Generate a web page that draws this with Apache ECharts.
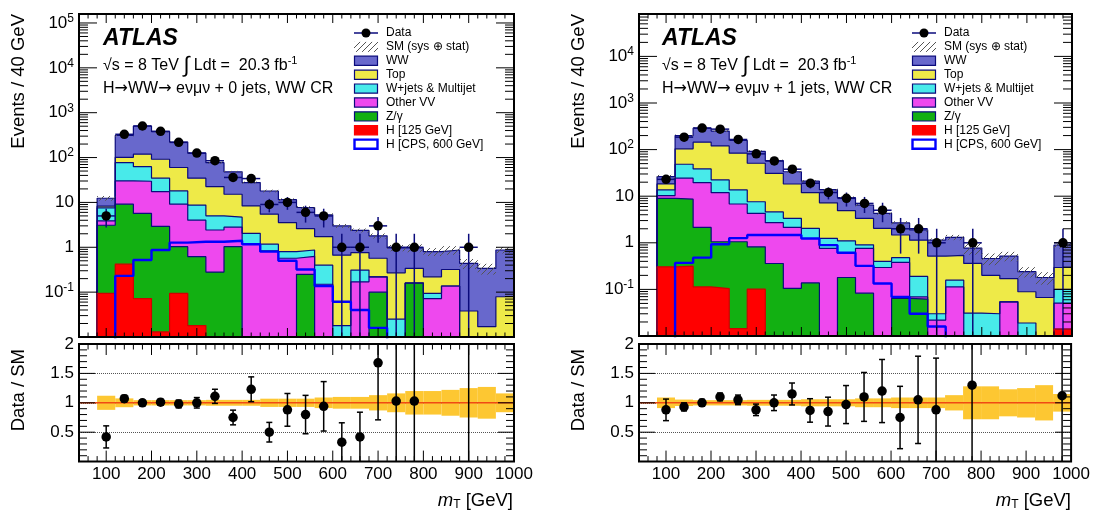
<!DOCTYPE html>
<html><head><meta charset="utf-8">
<script src="https://cdn.jsdelivr.net/npm/echarts@6/dist/echarts.min.js"></script>
<style>html,body{margin:0;padding:0;background:#fff}#c{width:1093px;height:511px}</style>
</head><body><div id="c"></div>
<script>
// ---------------- data ----------------
const binEdges = [80,120,160,200,240,280,320,360,400,440,480,520,560,600,640,680,720,760,800,840,880,920,960,1000];
const xTickLabels = [100,200,300,400,500,600,700,800,900,1000];
const ratioTickLabels = [0.5,1,1.5,2];
const legendNames = ['Data','SM (sys \u2295 stat)','WW','Top','W+jets & Multijet','Other VV','Z/\u03b3','H [125 GeV]','H [CPS, 600 GeV]'];

// 0-jet panel
const L_H125  = [0.094,0.42,0.072,0.013,0.094,0.018,0,0,0,0,0,0,0,0,0,0,0,0,0,0,0,0,0];
const L_Zgam  = [3.0,8.7,5.6,2.9,0.94,0.60,0.28,1.03,0,0,0,0.25,0,0,0,0.10,0,0.16,0,0,0,0,0];
const L_VV    = [0.8,21,24,14.5,8.1,3.4,2.15,1.77,1.2,0.83,0.57,0.38,0.15,0,0.17,0.12,0,0,0.072,0.137,0,0,0];
const L_Wjets = [3.7,47,33,17.3,8.9,4.7,2.6,1.9,0.85,0.34,0.23,0.24,0.25,0.018,0.14,0,0.025,0,0.022,0,0,0,0];
const L_Top   = [0.7,24,56,57,42,26,17.5,10.5,6.3,4.3,2.75,1.73,1.33,0.65,0.45,0.35,0.245,0.18,0.126,0.183,0.038,0.017,0.079];
const L_WW    = [4.1,209,386,285,162,91,54.5,32.8,19.3,12.5,7.95,5.1,3.57,2.33,1.62,1.23,0.70,0.63,0.58,0.55,0.40,0.32,0.79];
const L_CPS   = [0,0.23,0.52,0.87,1.27,1.33,1.33,1.40,1.17,0.80,0.50,0.32,0.137,0.061,0.040,0.016,0,0,0,0,0,0,0];
const L_Data  = [5,330,505,385,218,126,85,36,34,9,10,6,5,1,1,3,1,1,0,0,1,0,0];
const L_Ratio = [0.42,1.07,1.0,1.01,0.98,1.0,1.11,0.75,1.23,0.5,0.88,0.8,0.94,0.33,0.42,1.68,1.03,1.03,null,null,2.3,null,null];
const L_SysErr= [0.12,0.075,0.045,0.045,0.045,0.045,0.05,0.05,0.05,0.07,0.07,0.07,0.09,0.1,0.1,0.13,0.16,0.2,0.2,0.22,0.25,0.27,0.16];

// 1-jet panel
const R_H125  = [0.305,0.315,0.113,0.104,0.0144,0.101,0,0,0,0,0,0,0,0,0,0,0,0,0,0,0,0,0.014];
const R_Zgam  = [8.7,8.3,2.03,0.95,1.04,0.72,0.36,0.105,0.138,0,0.18,0.083,0,0.064,0.062,0,0,0,0,0,0,0,0];
const R_VV    = [1.3,15.7,17.4,10.85,5.75,3.48,2.34,2.03,1.10,0.76,0.43,0.68,0.295,0.316,0.007,0.022,0.113,0,0,0.054,0,0,0.037];
const R_Wjets = [3.3,24.2,19,10.4,6.8,3.3,1.9,1.21,0.80,0.48,0.49,0.14,0.105,0.10,0.121,0.008,0.045,0.031,0.030,0,0.019,0,0.049];
const R_Top   = [4.7,55.5,105.5,97.7,70.4,43.4,26.4,14.95,9.86,5.96,3.8,2.45,1.64,0.99,0.95,0.49,0.38,0.33,0.17,0.116,0.07,0.067,0.195];
const R_WW    = [8.0,96,144,130,73,41,27,15.2,9.1,6.6,4.4,3.05,2.26,1.2,0.76,0.62,0.77,0.41,0.26,0.35,0.151,0.113,0.595];
const R_CPS   = [0,0.37,0.48,0.93,1.26,1.47,1.47,1.47,1.24,0.89,0.61,0.32,0.134,0.069,0.030,0.016,0,0,0,0,0,0,0];
const R_Data  = [23,185,290,275,165,81,57,38,19,12,9,7,5,2,2,1,0,1,0,0,0,0,1];
const R_Ratio = [0.88,0.93,1.0,1.1,1.05,0.88,1.0,1.15,0.87,0.85,0.97,1.1,1.2,0.75,1.05,0.88,null,1.3,null,null,null,null,1.12];
const R_SysErr= [0.09,0.055,0.045,0.045,0.045,0.05,0.05,0.05,0.06,0.06,0.06,0.075,0.075,0.09,0.09,0.09,0.13,0.28,0.28,0.23,0.25,0.3,0.15];

// ---------------- styling ----------------
const FONT = '"Liberation Sans", Arial, Helvetica, sans-serif';
const NAVY = '#0b0b7c';
const C = {WW:'#6868cc', Top:'#eeea48', Wjets:'#48eaea', VV:'#ee48ee', Z:'#12b012', H125:'#ff0000', CPS:'#0000ff'};
const NB = binEdges.length - 1;
const YMIN = 0.01, FLOOR = 0.001;
const L_YMAX = Math.pow(10, 5.2), R_YMAX = Math.pow(10, 4.91);

function makeHatch(){
  const c = document.createElement('canvas'); c.width = 6; c.height = 6;
  const g = c.getContext('2d'); g.strokeStyle = '#555'; g.lineWidth = 1;
  g.beginPath(); g.moveTo(-1,7); g.lineTo(7,-1); g.moveTo(-1,1); g.lineTo(1,-1); g.moveTo(5,7); g.lineTo(7,5); g.stroke();
  return c;
}
const HATCH = {image: makeHatch(), repeat: 'repeat'};

function stepData(vals){
  const d = [[binEdges[0], FLOOR]];
  vals.forEach((v,i) => d.push([binEdges[i], Math.max(v, FLOOR)]));
  d.push([binEdges[NB], Math.max(vals[NB-1], FLOOR)]);
  d.push([binEdges[NB], FLOOR]);
  return d;
}
const centers = binEdges.slice(0,-1).map((e,i)=> (e + binEdges[i+1]) / 2);

function errRender(color, useCaps){
  return function(params, api){
    const x = api.value(0), y = api.value(1), lo = api.value(2), hi = api.value(3), x0 = api.value(4), x1 = api.value(5);
    const pLo = api.coord([x, lo]), pHi = api.coord([x, hi]);
    const st = {stroke: color, lineWidth: 1.5};
    const ch = [{type:'line', shape:{x1:pLo[0], y1:pLo[1], x2:pHi[0], y2:pHi[1]}, style: st}];
    if (x0 !== x1){
      const pL = api.coord([x0, y]), pR = api.coord([x1, y]);
      ch.push({type:'line', shape:{x1:pL[0], y1:pL[1], x2:pR[0], y2:pR[1]}, style: st});
    }
    if (useCaps){
      if (api.value(6)) ch.push({type:'line', shape:{x1:pLo[0]-3, y1:pLo[1], x2:pLo[0]+3, y2:pLo[1]}, style: st});
      if (api.value(7)) ch.push({type:'line', shape:{x1:pHi[0]-3, y1:pHi[1], x2:pHi[0]+3, y2:pHi[1]}, style: st});
    }
    return {type:'group', children: ch};
  };
}

function tickSeries(idx, yTicks, len){
  const items = [];
  for (let v = 60; v < 1000; v += 20) items.push([v, yTicks.ref, v % 100 === 0 ? 1 : 0]);
  yTicks.list.forEach(t => items.push([500, t[0], t[1] ? 3 : 2]));
  items.push([500, yTicks.ref, 4]);
  return {
    type:'custom', xAxisIndex: idx, yAxisIndex: idx, z: 10, silent: true, animation: false,
    data: items,
    renderItem: function(params, api){
      const cs = params.coordSys, k = api.value(2);
      const st = {stroke:'#000', lineWidth:1};
      if (k === 4) return {type:'rect', shape:{x:cs.x, y:cs.y, width:cs.width, height:cs.height}, style:{fill:'none', stroke:'#000', lineWidth:2}};
      const p = api.coord([api.value(0), api.value(1)]);
      if (k < 2){
        const L = k === 1 ? len.xMaj : len.xMin, b = cs.y + cs.height;
        return {type:'group', children:[
          {type:'line', shape:{x1:p[0], y1:b, x2:p[0], y2:b-L}, style:st},
          {type:'line', shape:{x1:p[0], y1:cs.y, x2:p[0], y2:cs.y+L}, style:st}]};
      }
      const L = k === 3 ? len.yMaj : len.yMin, r = cs.x + cs.width;
      return {type:'group', children:[
        {type:'line', shape:{x1:cs.x, y1:p[1], x2:cs.x+L, y2:p[1]}, style:st},
        {type:'line', shape:{x1:r, y1:p[1], x2:r-L, y2:p[1]}, style:st}]};
    }
  };
}

function logTicks(ymax){
  const list = [];
  for (let e = -2; e <= 5; e++) for (let k = 1; k <= 9; k++){
    const v = k * Math.pow(10, e);
    if (v > YMIN * 1.0001 && v < ymax) list.push([v, k === 1]);
  }
  return {ref: 1, list: list};
}
function ratioTicks(){
  const list = [];
  for (let i = 1; i < 20; i++) list.push([i / 10, i % 5 === 0]);
  return {ref: 1, list: list};
}

function panel(P, mi, ri, ymax){
  const layers = [P.h125, P.z, P.vv, P.w, P.top, P.ww];
  const cols = [C.H125, C.Z, C.VV, C.Wjets, C.Top, C.WW];
  const cum = []; let acc = new Array(NB).fill(0);
  layers.forEach(l => { acc = acc.map((a,i) => a + l[i]); cum.push(acc.slice()); });
  const total = cum[5];
  const s = [];
  for (let k = 5; k >= 0; k--){
    s.push({type:'line', xAxisIndex:mi, yAxisIndex:mi, step:'end', data: stepData(cum[k]), symbol:'none', showSymbol:false, z:2, silent:true, animation:false,
      lineStyle:{color: k === 0 ? '#d00000' : NAVY, width:1.2}, areaStyle:{color: cols[k], opacity:1, origin:'start'}});
  }
  s.push({type:'line', xAxisIndex:mi, yAxisIndex:mi, step:'end', data: stepData(P.cps), symbol:'none', showSymbol:false, z:3, silent:true, animation:false,
    lineStyle:{color: C.CPS, width:2.4}});
  // SM uncertainty hatch
  s.push({type:'custom', xAxisIndex:mi, yAxisIndex:mi, z:4, silent:true, animation:false,
    data: total.map((t,i) => [binEdges[i], t, binEdges[i+1], t*(1-P.err[i]), t*(1+P.err[i])]),
    renderItem: function(params, api){
      const a = api.coord([api.value(0), api.value(4)]), b = api.coord([api.value(2), api.value(3)]);
      return {type:'rect', shape:{x:a[0], y:a[1], width:b[0]-a[0], height:b[1]-a[1]}, style:{fill: HATCH}};
    }});
  // data errors & points
  const dErr = [], dPts = [];
  P.data.forEach((n,i) => {
    if (n > 0){
      const sq = Math.sqrt(n);
      dErr.push([centers[i], n, Math.max(n - sq, YMIN), n + sq, binEdges[i], binEdges[i+1]]);
      dPts.push([centers[i], n]);
    }
  });
  s.push({type:'custom', xAxisIndex:mi, yAxisIndex:mi, z:5, silent:true, animation:false, data: dErr, renderItem: errRender(NAVY, false)});
  s.push({type:'scatter', xAxisIndex:mi, yAxisIndex:mi, z:6, silent:true, animation:false, data: dPts, symbol:'circle', symbolSize:9.5, itemStyle:{color:'#000', opacity:1}});
  // ratio
  s.push({type:'custom', xAxisIndex:ri, yAxisIndex:ri, z:2, silent:true, animation:false,
    data: P.err.map((e,i) => [binEdges[i], 1, binEdges[i+1], 1-e, 1+e]),
    renderItem: function(params, api){
      const a = api.coord([api.value(0), api.value(4)]), b = api.coord([api.value(2), api.value(3)]);
      return {type:'rect', shape:{x:a[0], y:a[1], width:b[0]-a[0], height:b[1]-a[1]}, style:{fill:'#fdc732'}};
    }});
  s.push({type:'line', xAxisIndex:ri, yAxisIndex:ri, z:3, silent:true, animation:false, symbol:'none', data:[[40,1],[1000,1]], lineStyle:{color:'#f04a14', width:1.6}});
  const rErr = [], rPts = [];
  P.ratio.forEach((r,i) => {
    const n = P.data[i];
    if (r != null && n > 0){
      const e = r / Math.sqrt(n);
      const lo = r - e, hi = r + e;
      rErr.push([centers[i], r, Math.max(lo, 0), Math.min(hi, 2), centers[i], centers[i], lo > 0 ? 1 : 0, hi < 2 ? 1 : 0]);
      if (r <= 2) rPts.push([centers[i], r]);
    }
  });
  s.push({type:'custom', xAxisIndex:ri, yAxisIndex:ri, z:5, silent:true, animation:false, data: rErr, renderItem: errRender('#000', true)});
  s.push({type:'scatter', xAxisIndex:ri, yAxisIndex:ri, z:6, silent:true, animation:false, data: rPts, symbol:'circle', symbolSize:9.5, itemStyle:{color:'#000', opacity:1}});
  // ticks + frames
  s.push(tickSeries(mi, logTicks(ymax), {xMaj:9, xMin:4.5, yMaj:18, yMin:9}));
  s.push(tickSeries(ri, ratioTicks(), {xMaj:11, xMin:5.5, yMaj:16, yMin:8}));
  return s;
}

const PL = {h125:L_H125, z:L_Zgam, vv:L_VV, w:L_Wjets, top:L_Top, ww:L_WW, cps:L_CPS, data:L_Data, ratio:L_Ratio, err:L_SysErr};
const PR = {h125:R_H125, z:R_Zgam, vv:R_VV, w:R_Wjets, top:R_Top, ww:R_WW, cps:R_CPS, data:R_Data, ratio:R_Ratio, err:R_SysErr};

// ---------------- axes ----------------
function logFmt(v){
  const l = Math.log10(v), e = Math.round(l);
  if (Math.abs(l - e) > 1e-6 || e <= -2) return '';
  if (e === 0) return '1';
  if (e === 1) return '10';
  return '{b|10}{s|' + e + '}';
}
const noAx = {axisLine:{show:false}, axisTick:{show:false}, splitLine:{show:false}};
function xAx(g, labels){
  return Object.assign({gridIndex:g, type:'value', min:40, max:1000, interval:20,
    axisLabel: labels ? {show:true, formatter: v => xTickLabels.indexOf(v) >= 0 ? String(v) : '', fontSize:17, fontFamily:FONT, color:'#000', margin:4, showMaxLabel:true, showMinLabel:true} : {show:false}}, noAx);
}
function yLog(g, ymax){
  return Object.assign({gridIndex:g, type:'log', logBase:10, min:YMIN, max:ymax, interval:1,
    axisLabel:{formatter: logFmt, fontSize:17, fontFamily:FONT, color:'#000', margin:5,
      rich:{b:{fontSize:17, fontFamily:FONT, color:'#000'}, s:{fontSize:12, fontFamily:FONT, color:'#000', verticalAlign:'top', padding:[0,0,9,0]}}}}, noAx);
}
function yRatio(g){
  return {gridIndex:g, type:'value', min:0, max:2, interval:0.5, axisLine:{show:false}, axisTick:{show:false},
    splitLine:{show:true, lineStyle:{type:'dotted', color:'#555', width:1}},
    axisLabel:{formatter: v => ratioTickLabels.indexOf(v) >= 0 ? String(v) : '', fontSize:17, fontFamily:FONT, color:'#000', margin:5, showMaxLabel:true}};
}

// ---------------- text / legend ----------------
function txt(x, y, text, o){
  return Object.assign({type:'text', x:x, y:y, z:20, silent:true, style:Object.assign({text:text, fill:'#000', fontFamily:FONT, fontSize:16,
    textAlign:'left', textVerticalAlign:'middle', align:'left', verticalAlign:'middle'}, o || {})});
}
function legend(x0){
  const g = [], y0 = 33, dy = 13.9;
  const fills = [null, null, C.WW, C.Top, C.Wjets, C.VV, C.Z, C.H125, '#fff'];
  legendNames.forEach((name, i) => {
    const yc = y0 + i * dy;
    g.push(txt(x0 + 32, yc, name, {fontSize:12}));
    if (i === 0){
      g.push({type:'line', z:20, shape:{x1:x0, y1:yc, x2:x0+24, y2:yc}, style:{stroke:NAVY, lineWidth:1.5}});
      g.push({type:'circle', z:21, shape:{cx:x0+12, cy:yc, r:4.5}, style:{fill:'#000'}});
    } else if (i === 1){
      g.push({type:'rect', z:20, shape:{x:x0, y:yc-5, width:24, height:10}, style:{fill:HATCH}});
    } else {
      const stroke = i === 8 ? C.CPS : (i === 7 ? C.H125 : NAVY);
      g.push({type:'rect', z:20, shape:{x:x0+0.5, y:yc-4.6, width:23, height:9.2}, style:{fill:fills[i], stroke:stroke, lineWidth: i === 8 ? 2.4 : 1.2}});
    }
  });
  return g;
}
function panelText(xa, jets, xLeg, xTitleY, xRight){
  const g = [];
  g.push(txt(xa, 39, 'ATLAS', {fontSize:23, fontWeight:'bold', fontStyle:'italic'}));
  g.push(txt(xa, 66, '\u221As = 8 TeV {i|\u222B} Ldt =  20.3 fb{s|-1}', {fontSize:16,
    rich:{i:{fontSize:22, fontFamily:FONT}, s:{fontSize:11, fontFamily:FONT, verticalAlign:'top', padding:[0,0,9,0]}}}));
  g.push(txt(xa, 89, 'H{a|\u2192}WW{a|\u2192} e\u03BD\u03BC\u03BD + ' + jets + ' jets, WW CR', {fontSize:16,
    rich:{a:{fontSize:16, fontFamily:'"DejaVu Sans", sans-serif'}}}));
  legend(xLeg).forEach(e => g.push(e));
  g.push({type:'text', x:xTitleY, y:14, rotation:Math.PI/2, z:20, silent:true, style:{text:'Events / 40 GeV', fill:'#000', fontFamily:FONT, fontSize:18.5,
    textAlign:'right', textVerticalAlign:'middle', align:'right', verticalAlign:'middle'}});
  g.push({type:'text', x:xTitleY, y:349, rotation:Math.PI/2, z:20, silent:true, style:{text:'Data / SM', fill:'#000', fontFamily:FONT, fontSize:18.5,
    textAlign:'right', textVerticalAlign:'middle', align:'right', verticalAlign:'middle'}});
  g.push(txt(xRight, 501, '{i|m}{t|T} [GeV]', {fontSize:18.5, textAlign:'right', align:'right',
    rich:{i:{fontSize:18.5, fontStyle:'italic', fontFamily:FONT}, t:{fontSize:12, fontFamily:FONT, verticalAlign:'bottom', padding:[6,0,0,0]}}}));
  return g;
}

const chart = echarts.init(document.getElementById('c'), null, {renderer:'canvas'});
chart.setOption({
  animation:false,
  backgroundColor:'#fff',
  grid:[
    {left:79, top:14, width:435, height:323},
    {left:79, top:344, width:435, height:117.6},
    {left:639, top:14, width:433, height:322},
    {left:639, top:344, width:433, height:117.6}
  ],
  xAxis:[xAx(0,false), xAx(1,true), xAx(2,false), xAx(3,true)],
  yAxis:[yLog(0, L_YMAX), yRatio(1), yLog(2, R_YMAX), yRatio(3)],
  series: panel(PL, 0, 1, L_YMAX).concat(panel(PR, 2, 3, R_YMAX)),
  graphic: panelText(103, '0', 354, 19, 513).concat(panelText(662, '1', 912, 579, 1071))
});
</script></body></html>
